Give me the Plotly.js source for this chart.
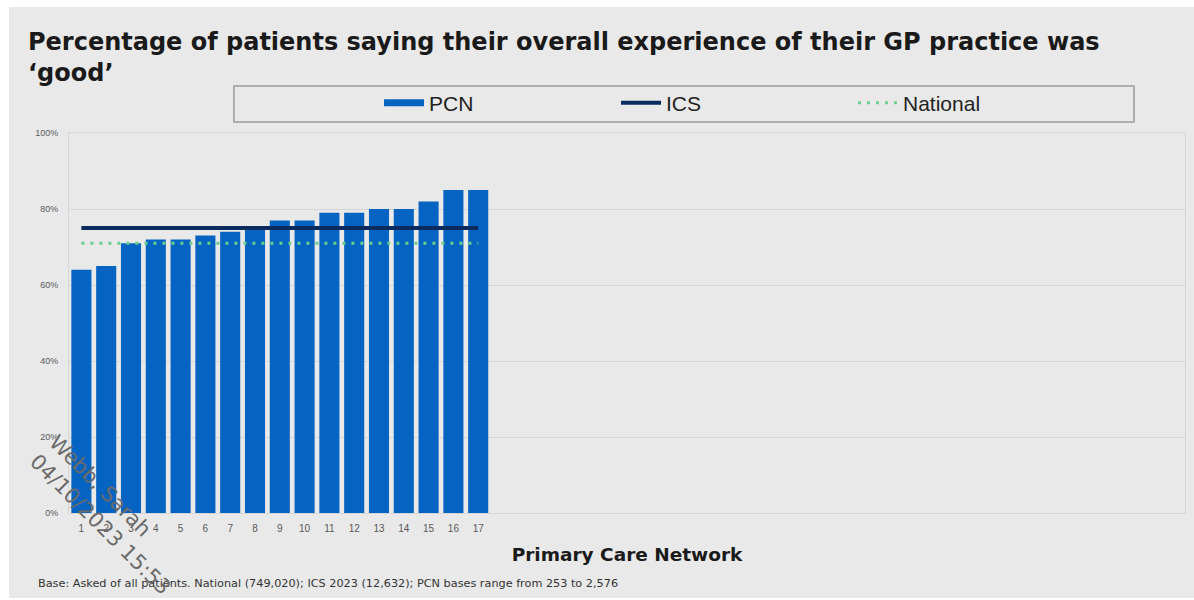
<!DOCTYPE html>
<html>
<head>
<meta charset="utf-8">
<script src="https://cdn.plot.ly/plotly-3.0.1.min.js"></script>
<style>
  html, body { margin: 0; padding: 0; background: #ffffff; width: 1194px; height: 600px; overflow: hidden; }
  #chart { position: absolute; left: 9px; top: 7px; width: 1185px; height: 591px; }
</style>
</head>
<body>
<div id="chart"></div>
<script>
// ---- Data ----
const categories = [1, 2, 3, 4, 5, 6, 7, 8, 9, 10, 11, 12, 13, 14, 15, 16, 17];
const pcnValues  = [64, 65, 71, 72, 72, 73, 74, 75, 77, 77, 79, 79, 80, 80, 82, 85, 85];
const icsValue = 75;
const nationalValue = 71;
const tickLabels = ['1','2','3','4','5','6','7','8','9','10','11','12','13','14','15','16','17'];
const seriesNames = ['PCN', 'ICS', 'National'];

const titleText = 'Percentage of patients saying their overall experience of their GP practice was<br>\u2018good\u2019';
const xTitle = 'Primary Care Network';
const footnote = 'Base: Asked of all patients. National (749,020); ICS 2023 (12,632); PCN bases range from 253 to 2,576';
const watermark = 'Webb, Sarah<br>04/10/2023 15:53';

const BAR = '#0563C1', ICS = '#0B2A5E', NAT = '#6BD08C';
const firstX = categories[0], lastX = categories[categories.length - 1];

const traces = [
  { type: 'bar', x: categories, y: pcnValues, name: seriesNames[0], marker: { color: BAR }, showlegend: false, hoverinfo: 'x+y' },
  { type: 'scatter', mode: 'lines', x: [null], y: [null], name: seriesNames[0], line: { color: BAR, width: 7 }, showlegend: true },
  { type: 'scatter', mode: 'lines', x: [firstX, lastX], y: [icsValue, icsValue], name: seriesNames[1], line: { color: ICS, width: 4 } },
  { type: 'scatter', mode: 'lines', x: [firstX, lastX], y: [nationalValue, nationalValue], name: seriesNames[2], line: { color: NAT, width: 3, dash: '3px,6px' } }
];

const layout = {
  width: 1185, height: 591,
  paper_bgcolor: '#e9e9e9', plot_bgcolor: '#e9e9e9',
  margin: { l: 60, r: 9, t: 126, b: 85 },
  font: { family: 'Liberation Sans, Arial, sans-serif', color: '#222' },
  title: { text: '<b>' + titleText + '</b>', x: 0.016, xanchor: 'left', y: 0.928, yanchor: 'top',
           font: { size: 24, color: '#1a1a1a', family: 'DejaVu Sans, sans-serif' } },
  bargap: 0.19,
  xaxis: {
    type: 'linear', range: [0.5, 45.5],
    tickmode: 'array', tickvals: categories, ticktext: tickLabels,
    tickfont: { size: 10, color: '#595959' }, ticks: '', ticklabelstandoff: 6,
    showgrid: false, zeroline: false,
    showline: true, linecolor: '#d6d6d6', linewidth: 1, mirror: true,
    title: { text: '<b>' + xTitle + '</b>', font: { size: 18.5, color: '#1a1a1a', family: 'DejaVu Sans, sans-serif' }, standoff: 15 }
  },
  yaxis: {
    range: [0, 100], dtick: 20, ticksuffix: '%',
    tickfont: { size: 9, color: '#595959' }, ticklabelstandoff: 8,
    showgrid: true, gridcolor: '#d6d6d6', gridwidth: 1, zeroline: false,
    showline: true, linecolor: '#d6d6d6', mirror: true
  },
  legend: {
    orientation: 'h', x: 0.2778, xanchor: 'left', y: 1.079, yanchor: 'middle',
    bgcolor: 'rgba(0,0,0,0)', borderwidth: 0,
    font: { size: 21, color: '#222' },
    entrywidth: 182, entrywidthmode: 'pixels', itemwidth: 40
  },
  shapes: [
    { type: 'rect', xref: 'paper', yref: 'paper', x0: 0.1478, x1: 0.9543, y0: 1.0289, y1: 1.1237,
      line: { color: '#9a9a9a', width: 1.5 }, fillcolor: 'rgba(0,0,0,0)' }
  ],
  annotations: [
    { text: footnote, xref: 'paper', yref: 'paper', x: -0.0296, y: -0.186, xanchor: 'left', yanchor: 'middle',
      showarrow: false, font: { size: 11.25, color: '#333', family: 'DejaVu Sans, sans-serif' } },
    { text: watermark, xref: 'paper', yref: 'paper', x: 0.0365, y: -0.004, xanchor: 'center', yanchor: 'middle',
      showarrow: false, textangle: 45, align: 'left', font: { size: 21, color: '#6a6a6a', family: 'DejaVu Sans, sans-serif' } }
  ]
};

Plotly.newPlot('chart', traces, layout, { displayModeBar: false, staticPlot: true });
</script>
</body>
</html>
